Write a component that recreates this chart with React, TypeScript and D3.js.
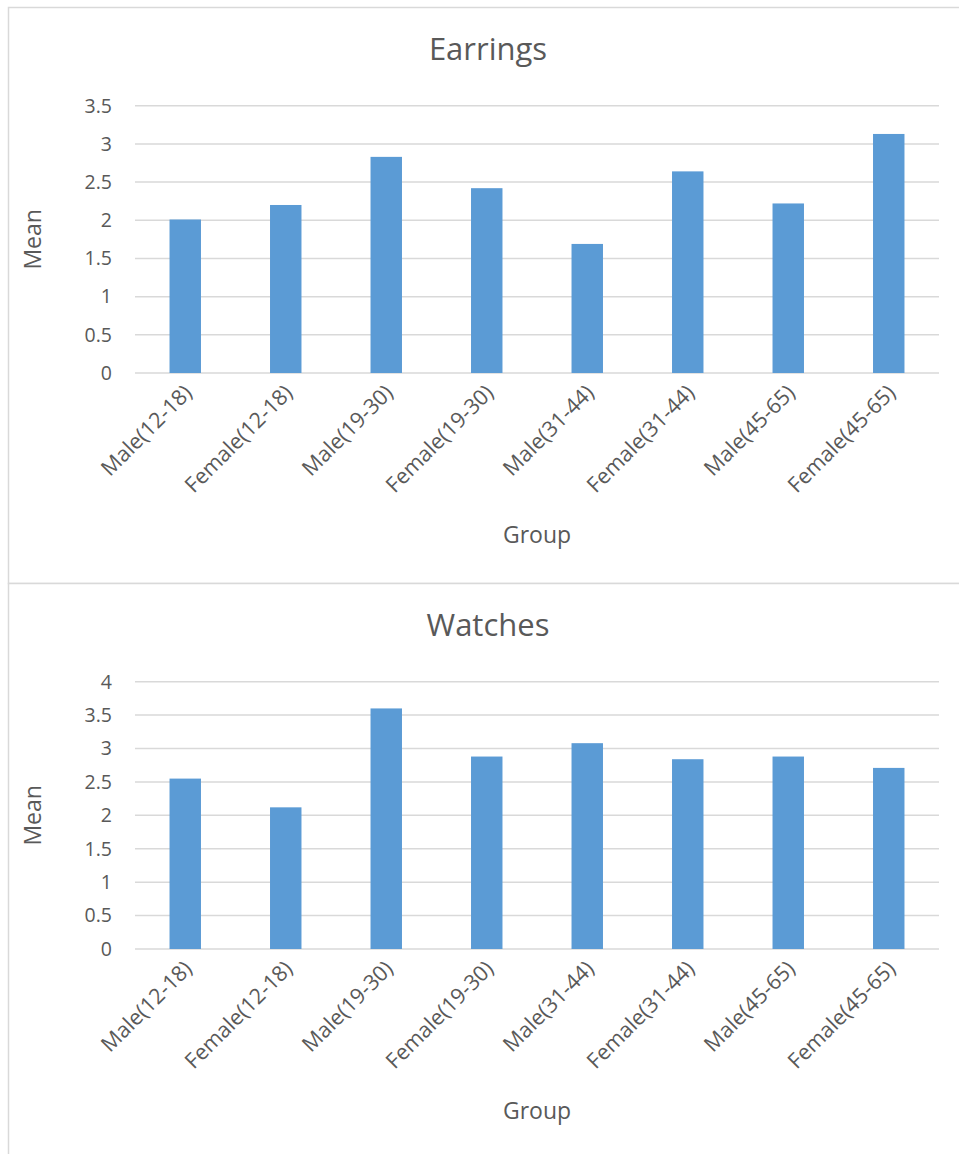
import React from 'react';
import * as d3 from 'd3';

const groups = [
  'Male(12-18)', 'Female(12-18)', 'Male(19-30)', 'Female(19-30)',
  'Male(31-44)', 'Female(31-44)', 'Male(45-65)', 'Female(45-65)',
];
const earrings = [2.01, 2.2, 2.83, 2.42, 1.69, 2.64, 2.22, 3.13];
const watches = [2.55, 2.12, 3.6, 2.88, 3.08, 2.84, 2.88, 2.71];
const earringTicks = [0, 0.5, 1, 1.5, 2, 2.5, 3, 3.5];
const watchTicks = [0, 0.5, 1, 1.5, 2, 2.5, 3, 3.5, 4];

const FONT = "'Open Sans', 'Noto Sans', sans-serif";
const TEXT = '#595959';
const GRID = '#d9d9d9';
const BAR = '#5b9bd5';

// chart box layout (local coords, box origin at its top-left)
const W = 960;
const H = 576;
const plot = { left: 127, right: 931, top: 98.7, bottom: 366 };

function BarChart({ title, values, ticks, y0 }: { title: string; values: number[]; ticks: number[]; y0: number }) {
  const x = d3.scaleBand<string>()
    .domain(groups)
    .range([plot.left, plot.right])
    .paddingInner(0.687)
    .paddingOuter(0.3435);
  const y = d3.scaleLinear()
    .domain([0, d3.max(ticks) as number])
    .range([plot.bottom, plot.top]);

  return (
    <g transform={`translate(8,${y0})`}>
      <rect x={0.5} y={0.5} width={W} height={H} fill="#fff" stroke={GRID} strokeWidth={1.5} />
      <text x={W / 2} y={53} textAnchor="middle" fontSize={31} fill={TEXT} fontFamily={FONT}>{title}</text>
      {ticks.map(t => (
        <g key={t}>
          <line x1={plot.left} x2={plot.right} y1={y(t)} y2={y(t)} stroke={GRID} strokeWidth={1.5} />
          <text x={104} y={y(t)} dy="0.35em" textAnchor="end" fontSize={19.5} fill={TEXT} fontFamily={FONT}>{t}</text>
        </g>
      ))}
      {values.map((v, i) => (
        <rect key={groups[i]} x={x(groups[i])} y={y(v)} width={x.bandwidth()} height={y(0) - y(v)} fill={BAR} />
      ))}
      {groups.map(g => {
        const cx = (x(g) as number) + x.bandwidth() / 2 + 8;
        const cy = plot.bottom + 21;
        return (
          <text key={g} x={cx} y={cy} transform={`rotate(-45,${cx},${cy})`} textAnchor="end"
            fontSize={21.5} fill={TEXT} fontFamily={FONT}>{g}</text>
        );
      })}
      <text x={(plot.left + plot.right) / 2} y={536} textAnchor="middle" fontSize={23} fill={TEXT} fontFamily={FONT}>Group</text>
      <text transform={`translate(33,${(plot.top + plot.bottom) / 2}) rotate(-90)`} textAnchor="middle"
        fontSize={23} fill={TEXT} fontFamily={FONT}>Mean</text>
    </g>
  );
}

export default function App() {
  return (
    <svg width={959} height={1154} style={{ position: 'absolute', left: 0, top: 0, background: '#fff' }}>
      <BarChart title="Earrings" values={earrings} ticks={earringTicks} y0={7} />
      <BarChart title="Watches" values={watches} ticks={watchTicks} y0={583} />
    </svg>
  );
}
